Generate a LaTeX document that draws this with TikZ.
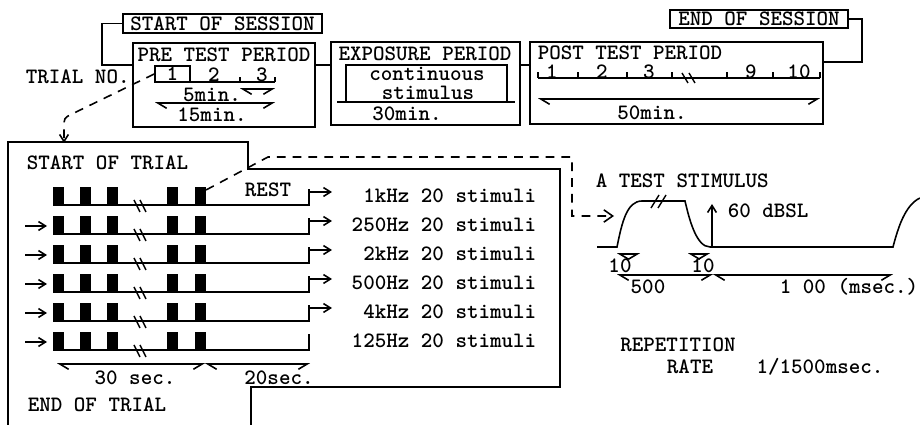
\documentclass[tikz,border=0pt]{standalone}
\usepackage{tikz}
\usetikzlibrary{arrows.meta,fit}

\begin{document}
\begin{tikzpicture}[x=0.02cm,y=-0.02cm,line width=0.9pt,
  every node/.style={font=\fontsize{12.5}{14}\fontseries{b}\selectfont\ttfamily,inner sep=0pt},
  frame/.style={draw,line width=1.1pt},
  period/.style={frame,fit={#1}},
  dim/.style={{Straight Barb[harpoon,length=5pt,width=6pt]}-{Straight Barb[harpoon,swap,length=5pt,width=6pt]}},
  tip/.style={-{Straight Barb[length=4pt,width=5pt]}},
  dashline/.style={dash pattern=on 5pt off 4pt},
  brk/.style={line width=0.8pt}]
  \useasboundingbox (0,0) rectangle (920,425);

  \node[frame,minimum width=3.98cm,minimum height=0.38cm] (ss) at (222.5,23.5) {START OF SESSION};
  \node[frame,minimum width=3.56cm,minimum height=0.36cm] (es) at (759,19) {END OF SESSION};
  \node[period={(133,43) (315,127)}] (pre) {};
  \node[period={(331,42) (520,125)}] (exp) {};
  \node[period={(530,42) (823,124)}] (post) {};
  \coordinate (k1) at (102,65); \coordinate (k2) at (862,62);
  \draw (ss.west) -| (k1) -- (k1 -| pre.west);
  \draw (pre.east |- k1) -- (exp.west |- k1); \draw (exp.east |- k1) -- (post.west |- k1);
  \draw (es.east) -| (k2) -- (k2 -| post.east);

  \node at (224,55) {PRE TEST PERIOD};
  \node[anchor=west] at (25,77) {TRIAL NO.};
  \node[draw,minimum width=0.7cm,minimum height=0.32cm] (t1) at (172.5,74) {1};
  \node at (214,75) {2}; \node at (262,75) {3};
  \draw (155,82) -- (275,82); \draw (240,82) -- (240,77); \draw (275,82) -- (275,77);
  \draw[dim] (240,89) -- (275,89);
  \node at (212,95) {5min.};
  \draw[dim] (155,103) -- (275,103);
  \node at (212,115) {15min.};

  \node at (425,54) {EXPOSURE PERIOD};
  \draw (337,102) -- (515,102); \draw (346,102) -- (346,65) -- (507,65) -- (507,102);
  \node at (427,74) {continuous}; \node at (428,93) {stimulus};
  \node at (407,114) {30min.};

  \node[anchor=west] at (537,53) {POST TEST PERIOD};
  \draw (538,78) -- (820,78);
  \foreach \t in {538,578,627,672,727,773,820} \draw (\t,78) -- (\t,72);
  \foreach \x/\n in {552/1,602/2,649/3,751/9,799/10} \node at (\x,72) {\n};
  \draw[brk] (682,73) -- (688,83); \draw[brk] (689,73) -- (695,83);
  \draw[dim] (538,99) -- (820,99);
  \node at (652,113) {50min.};

  \draw[line width=1.1pt] (8,425) -- (8,142) -- (248,142) -- (248,169) -- (560,169) -- (560,387) -- (251,387) -- (251,425);
  \coordinate (tr) at (64,143);
  \draw[dashline,tip] (t1.west) -- (72,114) .. controls (64,118) .. (64,128) -- (tr);
  \node[anchor=west] at (26,163) {START OF TRIAL};
  \node at (268,190) {REST};
  \foreach \i/\fr in {1/1kHz,2/250Hz,3/2kHz,4/500Hz,5/4kHz,6/125Hz}{
    \pgfmathsetmacro\yb{205+29*(\i-1)}
    \draw (53,\yb) -- (309,\yb) -- (309,\yb-16);
    \foreach \p in {53,80,107,167,195} \fill (\p,\yb) rectangle (\p+11,\yb-18);
    \draw[brk] (134,\yb-5) -- (140,\yb+7); \draw[brk] (140,\yb-5) -- (146,\yb+7);
    \node[anchor=east] (f\i) at (537,\yb-9) {\fr\ 20 stimuli};
    \coordinate (e\i) at (309,\yb-13); \coordinate (a\i) at (332,\yb-13);
    \coordinate (s\i) at (25,\yb-8); \coordinate (b\i) at (47,\yb-8);
  }
  \foreach \i in {1,...,5} \draw[tip] (e\i) -- (a\i);
  \foreach \i in {2,...,6} \draw[tip] (s\i) -- (b\i);
  \draw[dim] (57,364) -- (205,364); \draw[dim] (205,364) -- (310,364);
  \node at (135,378) {30 sec.}; \node at (279,378) {20sec.};
  \node[anchor=west] at (27,405) {END OF TRIAL};

  \coordinate (p1) at (206,190); \coordinate (rs) at (614,216);
  \draw[dashline,-{Straight Barb[length=5pt,width=7pt]}] (p1) -- (268,157) -- (572,157) -- (572,216) -- (rs);

  \node[anchor=west] at (595,181) {A TEST STIMULUS};
  \draw (597,247) -- (617,247) .. controls (622,222) and (627,201) .. (642,201) -- (685,201)
    .. controls (689,218) and (696,247) .. (710,247) -- (893,247) .. controls (898,228) and (905,205) .. (920,198);
  \draw[brk] (651,208) -- (659,195); \draw[brk] (658,208) -- (666,195);
  \coordinate (v1) at (712,204); \coordinate (v2) at (712,247);
  \draw[tip,{Straight Barb[length=4pt,width=5pt]}-] (v1) -- (v2);
  \node[anchor=west] at (727,211) {60 dBSL};
  \draw[dim] (617,254) -- (640,254); \node at (620,266) {10};
  \draw[dim] (688,254) -- (710,254); \node at (703,266) {10};
  \draw[dim] (617,275) -- (713,275); \draw[dim] (713,275) -- (893,275);
  \node at (648,287) {500}; \node[anchor=east] at (919,287) {1 00 (msec.)};
  \node at (678,345) {REPETITION}; \node at (690,367) {RATE}; \node at (820,367) {1/1500msec.};
\end{tikzpicture}
\end{document}
